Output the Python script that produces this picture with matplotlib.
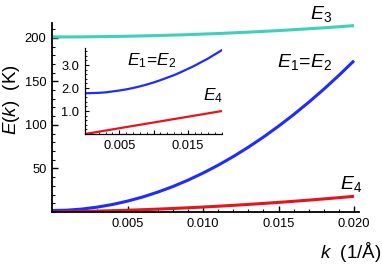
import numpy as np
import matplotlib.pyplot as plt
from matplotlib.ticker import MultipleLocator, FixedLocator

plt.rcParams['font.family'] = ['Liberation Sans', 'DejaVu Sans']
plt.rcParams['mathtext.fontset'] = 'custom'
plt.rcParams['mathtext.rm'] = 'Liberation Sans'
plt.rcParams['mathtext.it'] = 'Liberation Sans:italic'

# values
k = [0.0, 0.001, 0.002, 0.003, 0.004, 0.005, 0.006, 0.007, 0.008, 0.009, 0.010,
     0.011, 0.012, 0.013, 0.014, 0.015, 0.016, 0.017, 0.018, 0.019, 0.020]
E12 = [1.7, 2.1, 3.4, 5.6, 8.6, 12.5, 17.2, 22.8, 29.2, 36.5, 44.7,
       53.7, 63.6, 74.4, 86.0, 98.5, 111.8, 126.0, 141.0, 156.9, 173.7]
E3 = [201.0, 201.0, 201.1, 201.3, 201.5, 201.8, 202.2, 202.6, 203.1, 203.6, 204.3,
      204.9, 205.7, 206.5, 207.4, 208.3, 209.3, 210.4, 211.5, 212.7, 214.0]
E4 = [0.0, 0.27, 0.61, 1.02, 1.49, 2.03, 2.63, 3.30, 4.03, 4.83, 5.7,
      6.63, 7.63, 8.70, 9.83, 11.03, 12.29, 13.62, 15.01, 16.47, 18.0]

# inset
E12_in = [1.77, 1.78, 1.79, 1.81, 1.85, 1.89, 1.94, 2.00, 2.07, 2.15, 2.24,
          2.34, 2.45, 2.56, 2.69, 2.83, 2.97, 3.13, 3.29, 3.47, 3.65]
E4_in = [0.0, 0.05, 0.1, 0.15, 0.2, 0.25, 0.3, 0.35, 0.4, 0.45, 0.5,
         0.55, 0.6, 0.65, 0.7, 0.75, 0.8, 0.85, 0.9, 0.95, 1.0]

teal = '#3fd1b7'
blue = '#1f2bff'
red = '#e8141b'

W, H = 382, 270
fig = plt.figure(figsize=(W / 100, H / 100), dpi=100)


def box(x0, y0, x1, y1):
    # pixel box -> figure fraction
    return [x0 / W, 1 - y1 / H, (x1 - x0) / W, (y1 - y0) / H]


ax = fig.add_axes(box(52, 23, 359, 212))
ax.plot(k, E3, color=teal, lw=2.2, solid_capstyle='butt')
ax.plot(k, E12, color=blue, lw=2.2, solid_capstyle='butt')
ax.plot(k, E4, color=red, lw=2.2, solid_capstyle='butt')
ax.set_xlim(0, 0.02033)
ax.set_ylim(0, 217)
for s in ['top', 'right']:
    ax.spines[s].set_visible(False)
for s in ['left', 'bottom']:
    ax.spines[s].set_linewidth(1.3)
ax.xaxis.set_major_locator(FixedLocator([0.005, 0.010, 0.015, 0.020]))
ax.xaxis.set_minor_locator(MultipleLocator(0.001))
ax.yaxis.set_major_locator(FixedLocator([50, 100, 150, 200]))
ax.yaxis.set_minor_locator(MultipleLocator(10))
ax.set_xticklabels(['0.005', '0.010', '0.015', '0.020'])
ax.tick_params(which='both', direction='in', labelsize=9.3, pad=4)
ax.tick_params(which='major', length=4, width=1)
ax.tick_params(which='minor', length=2.5, width=0.8)

ins = fig.add_axes(box(85, 48, 222, 134))
ins.plot(k, E12_in, color=blue, lw=1.6)
ins.plot(k, E4_in, color=red, lw=1.6)
ins.set_xlim(0, 0.02)
ins.set_ylim(0, 3.74)
for s in ['top', 'right']:
    ins.spines[s].set_visible(False)
for s in ['left', 'bottom']:
    ins.spines[s].set_linewidth(0.9)
ins.xaxis.set_major_locator(FixedLocator([0.005, 0.010, 0.015]))
ins.set_xticklabels(['0.005', '', '0.015'])
ins.xaxis.set_minor_locator(MultipleLocator(0.001))
ins.yaxis.set_major_locator(FixedLocator([1.0, 2.0, 3.0]))
ins.set_yticklabels(['1.0', '2.0', '3.0'])
ins.yaxis.set_minor_locator(MultipleLocator(0.2))
ins.tick_params(which='both', direction='in', labelsize=9.3, pad=4)
ins.tick_params(which='major', length=3, width=0.8)
ins.tick_params(which='minor', length=1.5, width=0.6)

# curve labels
fig.text(321 / W, 1 - 14 / H, '$E_3$', fontsize=14, ha='center', va='center')
fig.text(305 / W, 1 - 62 / H, '$E_1\\!=\\!E_2$', fontsize=14, ha='center', va='center')
fig.text(351 / W, 1 - 184 / H, '$E_4$', fontsize=14, ha='center', va='center')
fig.text(152 / W, 1 - 61 / H, '$E_1\\!=\\!E_2$', fontsize=12.5, ha='center', va='center')
fig.text(213 / W, 1 - 96 / H, '$E_4$', fontsize=12.5, ha='center', va='center')

fig.text(12 / W, 1 - 100 / H, '$E(k)$  (K)', fontsize=13.5, rotation=90,
         ha='center', va='center')
fig.text(351 / W, 1 - 252 / H, '$k$  (1/Å)', fontsize=13.5, ha='center', va='center')

fig.savefig('out.png', dpi=100)
